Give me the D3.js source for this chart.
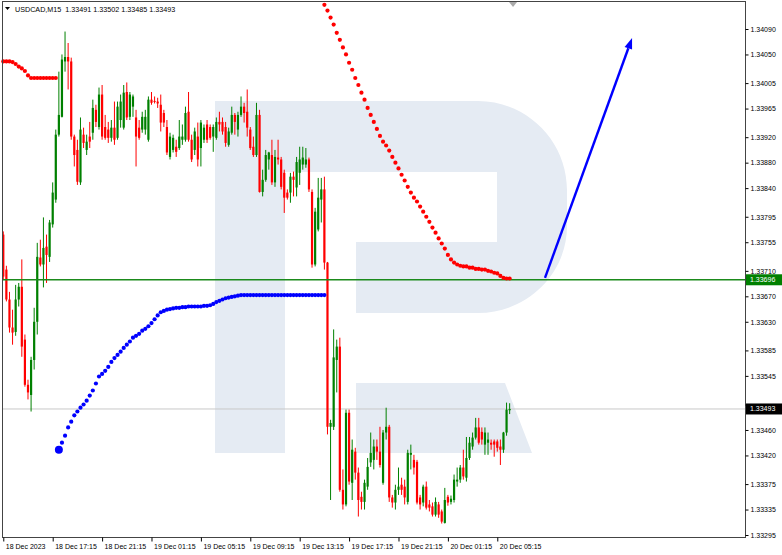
<!DOCTYPE html>
<html><head><meta charset="utf-8">
<script src="https://cdn.jsdelivr.net/npm/d3@7/dist/d3.min.js"></script>
<style>html,body{margin:0;padding:0;background:#fff;overflow:hidden}svg{display:block}</style>
</head><body>
<svg id="c" width="782" height="555"></svg>
<script>
// ---------- DATA ----------
const symbol = "USDCAD,M15";
const lastOHLC = [1.33491, 1.33502, 1.33485, 1.33493];
const timeLabels = ["18 Dec 2023","18 Dec 17:15","18 Dec 21:15","19 Dec 01:15","19 Dec 05:15","19 Dec 09:15","19 Dec 13:15","19 Dec 17:15","19 Dec 21:15","20 Dec 01:15","20 Dec 05:15"];
const timeLabelBars = [0,16,32,48,64,80,96,112,128,144,160];
const priceTicks = [1.34090,1.34050,1.34005,1.33965,1.33920,1.33880,1.33840,1.33795,1.33755,1.33710,1.33670,1.33630,1.33585,1.33545,1.33500,1.33460,1.33420,1.33375,1.33335,1.33295];

const opens = [1.33767,1.33712,1.33665,1.33621,1.33614,1.33665,1.33685,1.33602,1.33531,1.33515,1.33570,1.33630,1.33731,1.33720,1.33748,1.33732,1.33783,1.33822,1.33924,1.33952,
1.34039,1.34046,1.34039,1.33921,1.33900,1.33849,1.33924,1.33900,1.33921,1.33927,1.33963,1.33936,1.33987,1.33936,1.33932,1.33919,1.33935,1.33919,1.33947,1.33935,
1.33991,1.33952,1.33968,1.33951,1.33935,1.33932,1.33932,1.33916,1.33979,1.33977,1.33976,1.33971,1.33958,1.33936,1.33889,1.33900,1.33905,1.33903,1.33916,1.33916,
1.33960,1.33916,1.33900,1.33921,1.33903,1.33916,1.33940,1.33936,1.33921,1.33919,1.33944,1.33944,1.33936,1.33908,1.33927,1.33955,1.33932,1.33955,1.33968,1.33960,
1.33932,1.33905,1.33892,1.33955,1.33834,1.33853,1.33885,1.33892,1.33849,1.33888,1.33885,1.33864,1.33833,1.33833,1.33858,1.33841,1.33864,1.33877,1.33877,1.33885,
1.33834,1.33720,1.33775,1.33822,1.33838,1.33723,1.33465,1.33465,1.33570,1.33591,1.33366,1.33343,1.33487,1.33377,1.33426,1.33393,1.33355,1.33347,1.33371,1.33409,
1.33413,1.33434,1.33426,1.33377,1.33456,1.33465,1.33354,1.33346,1.33366,1.33374,1.33371,1.33347,1.33421,1.33413,1.33410,1.33354,1.33346,1.33371,1.33343,1.33340,
1.33327,1.33343,1.33332,1.33314,1.33355,1.33347,1.33350,1.33379,1.33382,1.33401,1.33385,1.33416,1.33434,1.33448,1.33464,1.33457,1.33437,1.33440,1.33440,1.33442,
1.33442,1.33434,1.33429,1.33456,1.33491];
const highs = [1.33772,1.33718,1.33677,1.33649,1.33688,1.33691,1.33728,1.33610,1.33539,1.33575,1.33652,1.33754,1.33759,1.33794,1.33767,1.33790,1.33849,1.33932,1.34023,1.34050,
1.34086,1.34068,1.34045,1.33924,1.33916,1.33951,1.33935,1.33924,1.33944,1.33979,1.33971,1.33998,1.34002,1.33955,1.33944,1.33947,1.33976,1.33976,1.33987,1.34002,
1.34006,1.33991,1.33987,1.33963,1.33947,1.33960,1.33963,1.33984,1.33991,1.33984,1.33982,1.33987,1.33963,1.33947,1.33927,1.33924,1.33916,1.33947,1.33940,1.33968,
1.33991,1.33924,1.33935,1.33943,1.33947,1.33940,1.33947,1.33940,1.33940,1.33951,1.33960,1.33951,1.33944,1.33935,1.33968,1.33958,1.33960,1.33984,1.33974,1.33995,
1.33936,1.33921,1.33974,1.33963,1.33869,1.33900,1.33897,1.33916,1.33900,1.33916,1.33889,1.33869,1.33838,1.33864,1.33866,1.33889,1.33905,1.33905,1.33903,1.33888,
1.33838,1.33809,1.33856,1.33856,1.33858,1.33724,1.33476,1.33618,1.33602,1.33605,1.33398,1.33492,1.33492,1.33445,1.33432,1.33401,1.33363,1.33382,1.33416,1.33456,
1.33445,1.33445,1.33465,1.33460,1.33495,1.33468,1.33358,1.33374,1.33401,1.33385,1.33382,1.33429,1.33437,1.33421,1.33413,1.33358,1.33374,1.33379,1.33350,1.33346,
1.33354,1.33347,1.33335,1.33369,1.33358,1.33357,1.33390,1.33401,1.33405,1.33429,1.33449,1.33449,1.33456,1.33479,1.33479,1.33464,1.33464,1.33456,1.33445,1.33445,
1.33445,1.33445,1.33457,1.33503,1.33502];
const lows = [1.33696,1.33662,1.33613,1.33594,1.33608,1.33654,1.33575,1.33528,1.33508,1.33489,1.33555,1.33610,1.33717,1.33684,1.33691,1.33724,1.33778,1.33817,1.33921,1.33951,
1.34023,1.33995,1.33916,1.33874,1.33845,1.33845,1.33903,1.33892,1.33903,1.33916,1.33936,1.33932,1.33916,1.33916,1.33911,1.33913,1.33908,1.33916,1.33935,1.33932,
1.33947,1.33947,1.33952,1.33874,1.33916,1.33927,1.33924,1.33913,1.33971,1.33973,1.33966,1.33929,1.33936,1.33892,1.33885,1.33896,1.33889,1.33900,1.33908,1.33913,
1.33913,1.33881,1.33892,1.33874,1.33874,1.33911,1.33911,1.33916,1.33897,1.33916,1.33929,1.33924,1.33905,1.33905,1.33924,1.33924,1.33921,1.33952,1.33943,1.33921,
1.33900,1.33889,1.33889,1.33833,1.33827,1.33850,1.33869,1.33845,1.33842,1.33877,1.33838,1.33801,1.33822,1.33817,1.33827,1.33827,1.33845,1.33869,1.33872,1.33834,
1.33715,1.33717,1.33772,1.33786,1.33712,1.33453,1.33350,1.33460,1.33519,1.33363,1.33335,1.33340,1.33374,1.33350,1.33382,1.33324,1.33335,1.33335,1.33366,1.33402,
1.33398,1.33413,1.33401,1.33374,1.33445,1.33347,1.33338,1.33335,1.33358,1.33358,1.33343,1.33343,1.33398,1.33390,1.33343,1.33335,1.33340,1.33335,1.33332,1.33324,
1.33324,1.33322,1.33313,1.33313,1.33341,1.33343,1.33346,1.33371,1.33377,1.33382,1.33379,1.33413,1.33429,1.33445,1.33437,1.33437,1.33421,1.33421,1.33429,1.33418,
1.33426,1.33405,1.33424,1.33451,1.33485];
const closes = [1.33701,1.33665,1.33621,1.33613,1.33665,1.33685,1.33591,1.33531,1.33519,1.33570,1.33630,1.33732,1.33720,1.33746,1.33735,1.33786,1.33833,1.33924,1.33955,1.34042,
1.34046,1.34039,1.33921,1.33892,1.33850,1.33932,1.33911,1.33913,1.33913,1.33966,1.33944,1.33987,1.33921,1.33919,1.33919,1.33935,1.33916,1.33968,1.33976,1.33990,
1.33951,1.33987,1.33984,1.33921,1.33919,1.33952,1.33952,1.33979,1.33974,1.33976,1.33973,1.33943,1.33943,1.33896,1.33921,1.33919,1.33897,1.33921,1.33921,1.33958,
1.33916,1.33885,1.33929,1.33885,1.33943,1.33935,1.33916,1.33919,1.33936,1.33944,1.33940,1.33929,1.33911,1.33929,1.33955,1.33944,1.33955,1.33968,1.33958,1.33935,
1.33903,1.33892,1.33955,1.33834,1.33853,1.33892,1.33896,1.33849,1.33889,1.33885,1.33842,1.33825,1.33825,1.33858,1.33853,1.33881,1.33885,1.33888,1.33885,1.33838,
1.33720,1.33803,1.33825,1.33838,1.33723,1.33465,1.33471,1.33574,1.33591,1.33366,1.33343,1.33487,1.33379,1.33429,1.33393,1.33350,1.33347,1.33377,1.33402,1.33424,
1.33434,1.33426,1.33405,1.33456,1.33465,1.33354,1.33346,1.33366,1.33371,1.33366,1.33354,1.33424,1.33424,1.33401,1.33346,1.33343,1.33371,1.33338,1.33338,1.33327,
1.33347,1.33327,1.33316,1.33350,1.33346,1.33352,1.33382,1.33382,1.33401,1.33387,1.33416,1.33440,1.33448,1.33464,1.33440,1.33445,1.33456,1.33445,1.33437,1.33437,
1.33432,1.33429,1.33456,1.33492,1.33493];

// indicator dots (red / blue), with the bar they start on
const redDotsEarlyStart = 0;
const redDotsEarly = [1.34039,1.34039,1.34039,1.34038,1.34035,1.34031,1.34028,1.34024,1.34017,1.34013,1.34013,1.34013,1.34013,1.34013,1.34013,1.34013,1.34013,1.34013];
const blueDotsStart = 18;
const blueDots = [1.33429,1.33440,1.33451,1.33464,1.33473,1.33483,1.33489,1.33495,1.33500,1.33506,1.33514,1.33522,1.33533,1.33544,1.33548,1.33553,1.33559,1.33567,1.33573,1.33578,
1.33583,1.33589,1.33594,1.33599,1.33605,1.33608,1.33611,1.33616,1.33619,1.33623,1.33628,1.33634,1.33640,1.33645,1.33647,1.33649,1.33650,1.33651,1.33652,1.33652,
1.33653,1.33653,1.33654,1.33654,1.33654,1.33654,1.33654,1.33655,1.33655,1.33656,1.33658,1.33661,1.33663,1.33665,1.33667,1.33668,1.33669,1.33670,1.33671,1.33672,
1.33672,1.33672,1.33672,1.33672,1.33672,1.33672,1.33672,1.33672,1.33672,1.33672,1.33672,1.33672,1.33672,1.33672,1.33672,1.33672,1.33672,1.33672,1.33672,1.33672,
1.33672,1.33672,1.33672,1.33672,1.33672,1.33672,1.33672];
const redDotsLateStart = 104;
const redDotsLate = [1.34128,1.34119,1.34108,1.34097,1.34084,1.34073,1.34061,1.34050,1.34037,1.34026,1.34013,1.34002,1.33990,1.33979,1.33966,1.33955,1.33944,1.33933,1.33922,1.33913,
1.33907,1.33899,1.33889,1.33880,1.33871,1.33861,1.33852,1.33842,1.33833,1.33825,1.33819,1.33811,1.33803,1.33795,1.33787,1.33778,1.33770,1.33761,1.33753,1.33745,
1.33735,1.33728,1.33723,1.33720,1.33718,1.33717,1.33717,1.33715,1.33715,1.33713,1.33713,1.33712,1.33712,1.33710,1.33709,1.33707,1.33706,1.33702,1.33699,1.33698,1.33698];

const levelPrice = 1.33696;   // green horizontal line
const bidPrice = 1.33493;     // grey bid line
const arrowStart = [175.45, 1.33699];
const arrowEnd = [203.66, 1.34076];

// ---------- LAYOUT ----------
const W = 782, H = 555;
const L = 2, R = 745, T = 2, B = 537;
const FONT = "'Liberation Sans', Arial, sans-serif";
const UP = "#008000", DN = "#ff0000";

const svg = d3.select("#c");
const x = d3.scaleLinear().domain([-0.42, 240.23]).range([L, R]);
const y = d3.scaleLinear().domain([1.33295, 1.34090]).range([535, 29]);

svg.append("rect").attr("width", W).attr("height", H).attr("fill", "#fff");

// watermark logo (decoration)
svg.append("path")
  .attr("fill", "#e5ebf3")
  .attr("fill-rule", "evenodd")
  .attr("d", "M215,101 H478 C527,101 567,141 567,190 V226 C567,274 527,313 478,313 H356 V242 H497 V172 H285 V453 H215 Z " +
             "M356,383 H505 L532,453 H356 Z");

const plot = svg.append("g");

// horizontal lines
plot.append("line").attr("x1", L).attr("x2", R).attr("y1", y(bidPrice)).attr("y2", y(bidPrice))
  .attr("stroke", "#c8c8c8").attr("stroke-width", 1);

// candles
const idx = d3.range(opens.length);
const cg = plot.append("g");
idx.forEach(i => {
  const o = opens[i], h = highs[i], l = lows[i], c = closes[i];
  const col = c >= o ? UP : DN;
  const cx = x(i);
  cg.append("line").attr("x1", cx).attr("x2", cx).attr("y1", y(h)).attr("y2", y(l))
    .attr("stroke", col).attr("stroke-width", 1);
  const yt = y(Math.max(o, c)), yb = y(Math.min(o, c));
  cg.append("rect").attr("x", cx - 1.1).attr("width", 2.2)
    .attr("y", yt).attr("height", Math.max(1, yb - yt)).attr("fill", col);
});

plot.append("line").attr("x1", L).attr("x2", R).attr("y1", y(levelPrice)).attr("y2", y(levelPrice))
  .attr("stroke", "#1b8a1b").attr("stroke-width", 1.6);

// indicator dots
function dots(arr, start, color, r) {
  plot.append("g").selectAll("circle").data(arr).join("circle")
    .attr("cx", (d, k) => x(start + k)).attr("cy", d => y(d)).attr("r", r).attr("fill", color);
}
dots(redDotsEarly, redDotsEarlyStart, "#ff0000", 2.1);
dots(redDotsLate, redDotsLateStart, "#ff0000", 2.1);
dots(blueDots, blueDotsStart, "#0000ff", 2.1);
plot.append("circle").attr("cx", x(blueDotsStart)).attr("cy", y(blueDots[0])).attr("r", 4).attr("fill", "#0000ff");

// arrow
const ax0 = x(arrowStart[0]), ay0 = y(arrowStart[1]), ax1 = x(arrowEnd[0]), ay1 = y(arrowEnd[1]);
const ang = Math.atan2(ay1 - ay0, ax1 - ax0);
const hl = 11, hw = 4;
const bx = ax1 - hl * Math.cos(ang), by = ay1 - hl * Math.sin(ang);
plot.append("line").attr("x1", ax0).attr("y1", ay0).attr("x2", bx).attr("y2", by)
  .attr("stroke", "#0000ff").attr("stroke-width", 2.4);
plot.append("path").attr("fill", "#0000ff")
  .attr("d", `M${ax1},${ay1} L${bx + hw * Math.sin(ang)},${by - hw * Math.cos(ang)} L${bx - hw * Math.sin(ang)},${by + hw * Math.cos(ang)} Z`);

// frame
svg.append("rect").attr("x", L + 0.5).attr("y", T - 0.5).attr("width", R - L).attr("height", B - T + 1)
  .attr("fill", "none").attr("stroke", "#444").attr("stroke-width", 1);

// price labels that sit under an axis tag are hidden by it, as in the terminal
const tagged = [levelPrice, bidPrice];
const hiddenUnderTag = v => tagged.some(p => Math.abs(y(v) - y(p)) < 7);

// right axis
const yAxis = d3.axisRight(y).tickValues(priceTicks).tickSize(3).tickPadding(2)
  .tickFormat(d => hiddenUnderTag(d) ? "" : d.toFixed(5));
const ya = svg.append("g").attr("transform", `translate(${R + 0.5},0)`).call(yAxis);
ya.select(".domain").remove();
ya.selectAll("line").attr("stroke", "#000");
ya.selectAll("text").attr("font-family", FONT).attr("font-size", 7).attr("fill", "#000");

// bottom axis
const xAxis = d3.axisBottom(x).tickValues(timeLabelBars).tickSize(4).tickPadding(3).tickFormat((d, k) => timeLabels[k]);
const xa = svg.append("g").attr("transform", `translate(0,${B + 0.5})`).call(xAxis);
xa.select(".domain").remove();
xa.selectAll("line").attr("stroke", "#000");
xa.selectAll("text").attr("font-family", FONT).attr("font-size", 7).attr("fill", "#000")
  .attr("text-anchor", "start").attr("dx", 2);

// price labels on axis
function priceTag(p, bg) {
  const yy = y(p);
  svg.append("rect").attr("x", R + 1).attr("y", yy - 5.5).attr("width", W - R - 1).attr("height", 11).attr("fill", bg);
  svg.append("text").attr("x", R + 5).attr("y", yy + 2.5).attr("font-family", FONT).attr("font-size", 7)
    .attr("fill", "#fff").text(p.toFixed(5));
}
priceTag(levelPrice, "#008000");
priceTag(bidPrice, "#000000");

// header
svg.append("path").attr("d", "M5,7 L10,7 L7.5,10 Z").attr("fill", "#000");
svg.append("text").attr("x", 15).attr("y", 11.5).attr("font-family", FONT).attr("font-size", 7.2).attr("fill", "#000")
  .attr("xml:space", "preserve")
  .text(symbol + "\u00a0\u00a0" + lastOHLC.map(v => v.toFixed(5)).join(" "));

// chart shift marker
const sx = x(opens.length + 0.1);
svg.append("path").attr("d", `M${sx - 4},${T} L${sx + 4},${T} L${sx},${T + 5} Z`).attr("fill", "#aaa");
</script>
</body></html>
